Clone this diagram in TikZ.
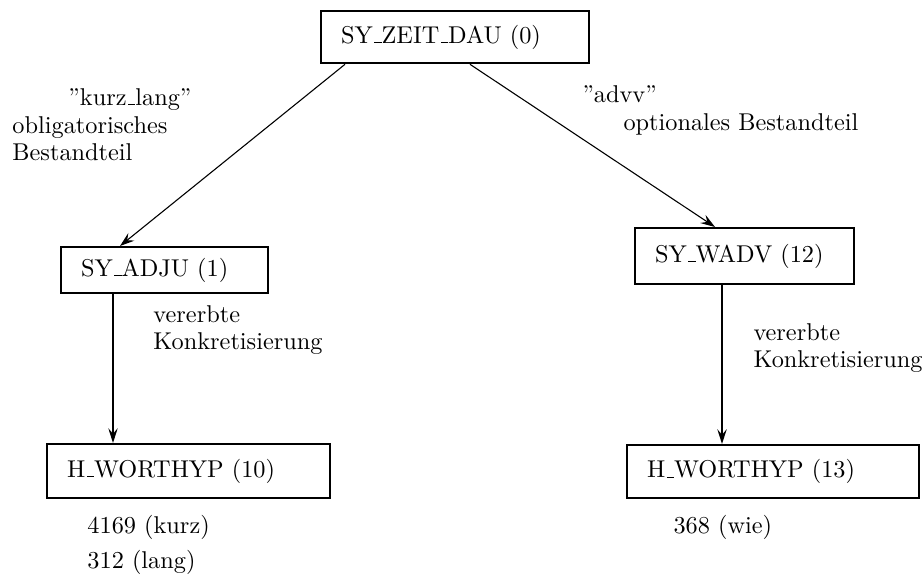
\documentclass[tikz,border=0pt]{standalone}
\usetikzlibrary{arrows.meta}
% underscore drawn as a short rule on the baseline
\newcommand\usc{\leavevmode\kern.06em\vbox{\hrule width.3em}}
\begin{document}
\begin{tikzpicture}[x=0.4115pt,y=-0.4115pt,
  box/.style={draw, line width=0.95pt, anchor=north west, align=left,
    inner xsep=20*0.4115pt, inner ysep=0pt, font=\fontsize{10}{12}\selectfont},
  lbl/.style={anchor=base west, inner sep=0pt, font=\fontsize{10}{12}\selectfont},
  thin arrow/.style={line width=0.45pt, -{Stealth[length=6pt,width=4pt,inset=2.2pt]}},
  thick arrow/.style={line width=0.95pt, -{Stealth[length=6pt,width=3.8pt,inset=2.2pt]}}]
\useasboundingbox (0,0) rectangle (922,577);

% boxes
\node[box, text width=(268-40)*0.4115pt, minimum height=52*0.4115pt] (t0) at (320,10) {SY\usc ZEIT\usc DAU (0)};
\node[box, text width=(207-40)*0.4115pt, minimum height=46*0.4115pt] (a1) at (60,246) {SY\usc ADJU (1)};
\node[box, text width=(219-40)*0.4115pt, minimum height=56*0.4115pt] (w12) at (634,227) {SY\usc WADV (12)};
\node[box, text width=(283-40)*0.4115pt, minimum height=54*0.4115pt] (h10) at (46,443) {H\usc WORTHYP (10)};
\node[box, text width=(292-40)*0.4115pt, minimum height=53*0.4115pt] (h13) at (626,444) {H\usc WORTHYP (13)};

% connectors
\draw[thin arrow] ([xshift=25*0.4115pt]t0.south west) -- ([xshift=60*0.4115pt]a1.north west);
\draw[thin arrow] ([xshift=150*0.4115pt]t0.south west) -- ([xshift=81*0.4115pt]w12.north west);
\draw[thick arrow] ([xshift=53*0.4115pt]a1.south west) -- ([xshift=67*0.4115pt]h10.north west);
\draw[thick arrow] ([xshift=88*0.4115pt]w12.south west) -- ([xshift=96*0.4115pt]h13.north west);

% edge labels
\node[lbl] (kl1) at (68,105) {''kurz\usc lang''};
\node[lbl] (kl2) at (12,133) {obligatorisches};
\node[lbl] (kl3) at (12,160) {Bestandteil};
\node[lbl] (ad1) at (582,102) {''advv''};
\node[lbl] (ad2) at (623,130) {optionales Bestandteil};
\node[lbl] (vl1) at (153,322) {vererbte};
\node[lbl] (vl2) at (153,349) {Konkretisierung};
\node[lbl] (vr1) at (753,340) {vererbte};
\node[lbl] (vr2) at (753,367) {Konkretisierung};

% counts below the leaves
\node[lbl] (c1) at (87,533) {4169 (kurz)};
\node[lbl] (c2) at (87,568) {312 (lang)};
\node[lbl] (c3) at (673,533) {368 (wie)};
\end{tikzpicture}
\end{document}
